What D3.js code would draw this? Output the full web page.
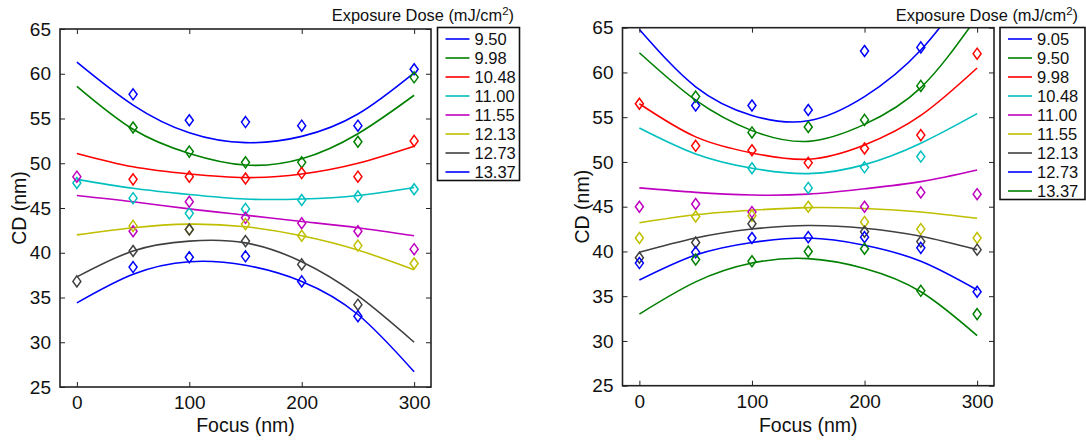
<!DOCTYPE html>
<html>
<head>
<meta charset="utf-8">
<script src="https://cdn.jsdelivr.net/npm/d3@7"></script>
<style>
  body { margin: 0; background: #fff; }
  svg { display: block; font-family: "Liberation Sans", Arial, Helvetica, sans-serif; }
</style>
</head>
<body>
<svg id="chart" width="1086" height="442"></svg>
<script>
// Focus values (nm), shared by both panels
var focus = [0, 50, 100, 150, 200, 250, 300];

// Left panel
var leftDoses = ["9.50", "9.98", "10.48", "11.00", "11.55", "12.13", "12.73", "13.37"];
var leftColors = ["#0000ff", "#008000", "#ff0000", "#00bfbf", "#bf00bf", "#bfbf00", "#404040", "#0000ff"];
var leftPoints = [
  [null, 57.7, 54.8, 54.6, 54.2, 54.2, 60.5],
  [null, 54.0, 51.3, 50.1, 50.1, 52.4, 59.6],
  [null, 48.2, 48.5, 48.3, 48.9, 48.5, 52.5],
  [47.8, 46.1, 44.4, 44.9, 45.9, 46.3, 47.1],
  [48.5, 42.4, 45.7, 43.9, 43.3, 42.4, 40.4],
  [null, 43.0, 42.6, 43.2, 41.9, 40.8, 38.8],
  [36.8, 40.2, 42.6, 41.3, 38.7, 34.2, null],
  [null, 38.4, 39.5, 39.6, 36.8, 32.9, null]
];
var leftFits = [
  [61.3, 56.5, 53.4, 52.3, 53.0, 55.5, 60.1],
  [58.6, 53.8, 51.1, 49.8, 50.5, 53.3, 57.6],
  [51.1, 49.6, 48.8, 48.4, 48.8, 50.0, 51.9],
  [48.2, 47.2, 46.5, 46.0, 46.0, 46.4, 47.3],
  [46.4, 45.7, 44.9, 44.2, 43.5, 42.8, 41.9],
  [42.0, 42.8, 43.2, 42.9, 41.9, 40.3, 38.1],
  [37.3, 40.2, 41.3, 41.1, 39.0, 35.2, 30.0],
  [34.4, 37.6, 39.0, 38.6, 36.8, 33.1, 26.7]
];

// Right panel
var rightDoses = ["9.05", "9.50", "9.98", "10.48", "11.00", "11.55", "12.13", "12.73", "13.37"];
var rightColors = ["#0000ff", "#008000", "#ff0000", "#00bfbf", "#bf00bf", "#bfbf00", "#404040", "#0000ff", "#008000"];
var rightPoints = [
  [null, 56.3, 56.3, 55.8, 62.4, 62.8, null],
  [null, 57.3, 53.3, 53.9, 54.7, 58.5, null],
  [56.5, 51.8, 51.3, 49.9, 51.5, 53.0, 62.1],
  [null, null, 49.3, 47.1, 49.4, 50.6, null],
  [45.0, 45.3, 44.4, null, 45.0, 46.6, 46.4],
  [41.5, 43.9, 44.0, 45.0, 43.3, 42.5, 41.5],
  [39.3, 41.0, 43.1, null, 42.2, 41.1, 40.2],
  [38.7, 39.9, 41.5, 41.6, 41.6, 40.4, 35.5],
  [null, 39.1, 38.9, 40.0, 40.3, 35.6, 33.0]
];
var rightFits = [
  [64.8, 58.4, 55.2, 54.6, 57.3, 62.5, 70.6],
  [62.2, 56.9, 53.5, 52.3, 54.2, 58.3, 66.2],
  [56.5, 52.8, 51.0, 50.3, 51.9, 55.2, 60.5],
  [53.8, 50.9, 49.3, 48.7, 49.7, 52.1, 55.4],
  [47.1, 46.6, 46.3, 46.4, 47.0, 47.8, 49.1],
  [43.2, 44.1, 44.6, 44.9, 44.8, 44.4, 43.7],
  [39.9, 41.5, 42.5, 42.9, 42.6, 41.7, 40.2],
  [36.8, 39.6, 41.0, 41.5, 40.7, 38.9, 35.7],
  [33.0, 36.6, 38.7, 39.2, 38.1, 35.5, 30.6]
];

var xTicks = [0, 100, 200, 300];
var yTicks = [25, 30, 35, 40, 45, 50, 55, 60, 65];
var legendTitle = "Exposure Dose (mJ/cm";

var svg = d3.select("#chart");

function drawPanel(id, box, doses, colors, points, fits, legend) {
  var g = svg.append("g");
  var x = d3.scaleLinear().domain([-15, 315]).range([box.left, box.right]);
  var y = d3.scaleLinear().domain([25, 65]).range([box.bottom, box.top]);

  svg.append("clipPath").attr("id", id)
    .append("rect")
    .attr("x", box.left).attr("y", box.top)
    .attr("width", box.right - box.left).attr("height", box.bottom - box.top);

  // fitted curves
  var line = d3.line()
    .x(function(d, i){ return x(focus[i]); })
    .y(function(d){ return y(d); })
    .curve(d3.curveNatural);
  var plot = g.append("g").attr("clip-path", "url(#" + id + ")");
  fits.forEach(function(f, k){
    plot.append("path")
      .attr("d", line(f))
      .attr("fill", "none")
      .attr("stroke", colors[k])
      .attr("stroke-width", 1.6);
  });

  // measured points as diamonds
  points.forEach(function(row, k){
    row.forEach(function(v, i){
      if (v === null) return;
      var cx = x(focus[i]), cy = y(v);
      plot.append("path")
        .attr("d", "M" + cx + "," + (cy - 5.5) + "L" + (cx + 4) + "," + cy +
                   "L" + cx + "," + (cy + 5.5) + "L" + (cx - 4) + "," + cy + "Z")
        .attr("fill", "none")
        .attr("stroke", colors[k])
        .attr("stroke-width", 1.5);
    });
  });

  // axes (MATLAB style: inward ticks, box on)
  var ax = g.append("g");
  ax.append("g").attr("transform", "translate(0," + box.bottom + ")")
    .call(d3.axisBottom(x).tickValues(xTicks).tickSize(-5).tickPadding(9).tickFormat(d3.format("d")));
  ax.append("g").attr("transform", "translate(0," + box.top + ")")
    .call(d3.axisTop(x).tickValues(xTicks).tickSize(-5).tickFormat(""));
  ax.append("g").attr("transform", "translate(" + box.left + ",0)")
    .call(d3.axisLeft(y).tickValues(yTicks).tickSize(-5).tickPadding(9).tickFormat(d3.format("d")));
  ax.append("g").attr("transform", "translate(" + box.right + ",0)")
    .call(d3.axisRight(y).tickValues(yTicks).tickSize(-5).tickFormat(""));
  ax.selectAll(".domain").remove();
  ax.selectAll(".tick line").attr("stroke", "#222").attr("stroke-width", 1);
  ax.selectAll(".tick text").attr("fill", "#111").style("font-size", "19px")
    .style("font-family", "'Liberation Sans', Arial, sans-serif");

  g.append("rect")
    .attr("x", box.left).attr("y", box.top)
    .attr("width", box.right - box.left).attr("height", box.bottom - box.top)
    .attr("fill", "none").attr("stroke", "#222").attr("stroke-width", 1.6);

  // axis labels
  g.append("text")
    .attr("x", (box.left + box.right) / 2).attr("y", 432)
    .attr("text-anchor", "middle").style("font-size", "19.5px").attr("fill", "#111")
    .text("Focus (nm)");
  g.append("text")
    .attr("transform", "translate(" + (box.left - 34) + "," + ((box.top + box.bottom) / 2) + ") rotate(-90)")
    .attr("text-anchor", "middle").style("font-size", "19.5px").attr("fill", "#111")
    .text("CD (nm)");

  // legend
  var title = g.append("text")
    .attr("x", legend.titleRight).attr("y", 21)
    .attr("text-anchor", "end").style("font-size", "16.4px").attr("fill", "#111");
  title.append("tspan").text(legendTitle);
  title.append("tspan").attr("dy", -6).style("font-size", "11.5px").text("2");
  title.append("tspan").attr("dy", 6).text(")");

  var rowH = 19;
  g.append("rect")
    .attr("x", legend.left).attr("y", legend.top)
    .attr("width", legend.width).attr("height", doses.length * rowH + 1)
    .attr("fill", "#fff").attr("stroke", "#111").attr("stroke-width", 1.6);
  doses.forEach(function(d, k){
    var ly = legend.top + 11.5 + k * rowH;
    g.append("line")
      .attr("x1", legend.left + 8).attr("x2", legend.left + 32)
      .attr("y1", ly).attr("y2", ly)
      .attr("stroke", colors[k]).attr("stroke-width", 1.6);
    g.append("text")
      .attr("x", legend.left + 37).attr("y", ly + 6)
      .style("font-size", "16.5px").attr("fill", "#111")
      .text(d);
  });
}

drawPanel("clipL", {left: 60, right: 431, top: 29, bottom: 387},
  leftDoses, leftColors, leftPoints, leftFits,
  {left: 437.5, top: 27.5, width: 82, titleRight: 514});
drawPanel("clipR", {left: 622.5, right: 994, top: 27.7, bottom: 385.7},
  rightDoses, rightColors, rightPoints, rightFits,
  {left: 1000, top: 27.5, width: 85, titleRight: 1078});
</script>
</body>
</html>
